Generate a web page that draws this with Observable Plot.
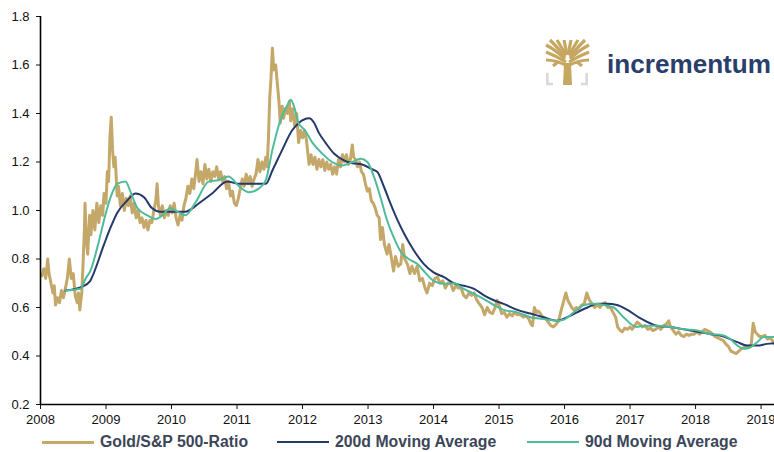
<!DOCTYPE html>
<html>
<head>
<meta charset="utf-8">
<script src="https://cdn.jsdelivr.net/npm/d3@7"></script>
<script src="https://cdn.jsdelivr.net/npm/@observablehq/plot@0.6"></script>
<style>
  html, body { margin: 0; padding: 0; background: #fff; }
  #wrap { position: relative; width: 774px; height: 452px; overflow: hidden; font-family: "Liberation Sans", Arial, sans-serif; }
  #legend { position: absolute; left: 0; top: 430px; width: 774px; height: 22px; }
  .item { position: absolute; top: 3px; display: flex; align-items: center; font-weight: bold; font-size: 15.8px; color: #3b4658; white-space: nowrap; }
  .sw { display: inline-block; width: 52px; margin-right: 6px; }
  #logo { position: absolute; left: 540px; top: 34px; }
</style>
</head>
<body>
<div id="wrap">
  <div id="chart"></div>
  <div id="legend"></div>
  <svg id="logo" width="234" height="56" viewBox="540 34 234 56">
    <g fill="#c6a762">
      <path d="M563 85 L572 85 L571 63 L564 63 Z"/>
    </g>
    <g stroke="#c6a762" stroke-width="3.2" fill="none" stroke-linecap="butt">
      <path d="M567.5 66 C560 62 552 60 546 60"/>
      <path d="M567.5 66 C575 62 583 60 589 60"/>
      <path d="M566 62 C558 57 551 54 546 52"/>
      <path d="M569 62 C577 57 584 54 589 52"/>
      <path d="M565 59 C558 52 552 48 546 45"/>
      <path d="M570 59 C577 52 583 48 589 45"/>
      <path d="M565 57 C560 50 555 45 550 40"/>
      <path d="M570 57 C575 50 580 45 585 40"/>
      <path d="M566 55 C563 50 560 45 557 40"/>
      <path d="M569 55 C572 50 575 45 578 40"/>
      <path d="M567 55 C566 50 565 45 564 40"/>
      <path d="M568 55 C569 50 570 45 571 40"/>
      <path d="M558 62 L553 66"/>
      <path d="M577 62 L582 66"/>
    </g>
    <g stroke="#d8d8d8" stroke-width="2.5" fill="none">
      <path d="M547.3 73 L547.3 84 L553 84"/>
      <path d="M586.7 73 L586.7 84 L581 84"/>
    </g>
    <text x="607" y="72.5" font-family="Liberation Sans, Arial, sans-serif" font-weight="bold" font-size="26.5" fill="#2a3e6b" textLength="164" lengthAdjust="spacingAndGlyphs">incrementum</text>
  </svg>
</div>
<script>
// ---- Data (decimal years) ----
const goldYear = [2008.02,2008.05,2008.08,2008.11,2008.13,2008.16,2008.19,2008.21,2008.23,2008.26,2008.29,2008.32,2008.35,2008.38,2008.41,2008.44,2008.47,2008.50,2008.53,2008.56,2008.58,2008.60,2008.63,2008.65,2008.67,2008.68,2008.70,2008.72,2008.75,2008.77,2008.80,2008.83,2008.86,2008.89,2008.92,2008.95,2008.97,2009.00,2009.02,2009.04,2009.06,2009.08,2009.10,2009.12,2009.14,2009.17,2009.19,2009.22,2009.25,2009.28,2009.31,2009.34,2009.37,2009.40,2009.43,2009.46,2009.49,2009.52,2009.55,2009.58,2009.61,2009.64,2009.67,2009.70,2009.73,2009.76,2009.78,2009.80,2009.83,2009.86,2009.89,2009.92,2009.95,2009.98,2010.01,2010.04,2010.07,2010.10,2010.13,2010.16,2010.19,2010.22,2010.25,2010.28,2010.31,2010.34,2010.37,2010.39,2010.42,2010.45,2010.48,2010.51,2010.54,2010.57,2010.60,2010.63,2010.66,2010.69,2010.72,2010.75,2010.78,2010.81,2010.84,2010.87,2010.90,2010.93,2010.96,2010.99,2011.02,2011.05,2011.08,2011.11,2011.14,2011.17,2011.20,2011.23,2011.26,2011.29,2011.32,2011.35,2011.38,2011.41,2011.44,2011.46,2011.48,2011.50,2011.52,2011.54,2011.56,2011.59,2011.62,2011.64,2011.66,2011.69,2011.71,2011.74,2011.77,2011.80,2011.82,2011.85,2011.88,2011.91,2011.94,2011.97,2012.00,2012.03,2012.06,2012.08,2012.10,2012.13,2012.16,2012.19,2012.22,2012.25,2012.28,2012.31,2012.34,2012.37,2012.40,2012.43,2012.46,2012.49,2012.52,2012.55,2012.58,2012.61,2012.64,2012.67,2012.70,2012.73,2012.76,2012.78,2012.81,2012.84,2012.87,2012.90,2012.93,2012.96,2012.99,2013.02,2013.05,2013.08,2013.11,2013.14,2013.17,2013.19,2013.22,2013.25,2013.29,2013.32,2013.36,2013.39,2013.42,2013.46,2013.50,2013.53,2013.56,2013.60,2013.64,2013.67,2013.71,2013.75,2013.79,2013.83,2013.87,2013.90,2013.94,2013.98,2014.02,2014.06,2014.10,2014.14,2014.18,2014.22,2014.26,2014.30,2014.34,2014.38,2014.42,2014.46,2014.50,2014.54,2014.58,2014.62,2014.66,2014.70,2014.74,2014.78,2014.82,2014.86,2014.90,2014.94,2014.97,2015.00,2015.04,2015.08,2015.12,2015.16,2015.20,2015.24,2015.28,2015.33,2015.37,2015.41,2015.45,2015.49,2015.51,2015.54,2015.57,2015.60,2015.63,2015.67,2015.71,2015.75,2015.79,2015.83,2015.87,2015.91,2015.95,2015.98,2016.02,2016.05,2016.08,2016.11,2016.14,2016.18,2016.22,2016.26,2016.30,2016.34,2016.38,2016.42,2016.46,2016.50,2016.54,2016.58,2016.62,2016.66,2016.70,2016.74,2016.78,2016.81,2016.85,2016.88,2016.92,2016.96,2017.00,2017.03,2017.07,2017.11,2017.15,2017.19,2017.23,2017.27,2017.31,2017.35,2017.39,2017.43,2017.47,2017.51,2017.55,2017.59,2017.62,2017.66,2017.70,2017.74,2017.78,2017.82,2017.86,2017.90,2017.94,2017.98,2018.02,2018.06,2018.10,2018.14,2018.18,2018.22,2018.26,2018.30,2018.34,2018.38,2018.42,2018.46,2018.50,2018.54,2018.58,2018.62,2018.66,2018.70,2018.74,2018.78,2018.82,2018.85,2018.88,2018.91,2018.94,2018.98,2019.02,2019.06,2019.10,2019.14,2019.18,2019.20];
const goldRatio = [0.73,0.76,0.72,0.80,0.74,0.70,0.66,0.69,0.61,0.64,0.62,0.67,0.64,0.68,0.72,0.80,0.72,0.74,0.65,0.62,0.66,0.59,0.66,0.78,0.92,1.03,0.88,0.82,0.98,0.90,1.00,0.92,1.03,0.95,1.02,0.98,1.07,1.03,1.16,1.12,1.30,1.385,1.25,1.18,1.22,1.06,1.10,1.02,1.07,1.00,1.05,1.02,1.06,0.99,1.03,0.97,1.00,0.95,0.97,0.93,0.96,0.92,0.96,0.95,1.00,1.04,1.11,1.02,0.98,1.02,0.97,1.00,0.98,1.02,0.99,1.03,0.97,0.94,0.98,0.96,1.02,1.05,1.10,1.07,1.13,1.09,1.16,1.21,1.12,1.16,1.11,1.19,1.13,1.17,1.12,1.16,1.14,1.18,1.13,1.16,1.12,1.14,1.09,1.12,1.06,1.08,1.03,1.02,1.05,1.09,1.13,1.10,1.15,1.11,1.14,1.10,1.13,1.15,1.21,1.16,1.20,1.17,1.22,1.18,1.30,1.47,1.55,1.67,1.58,1.60,1.51,1.45,1.36,1.43,1.38,1.42,1.40,1.45,1.37,1.42,1.35,1.40,1.28,1.33,1.30,1.33,1.29,1.24,1.19,1.23,1.19,1.22,1.17,1.21,1.18,1.21,1.165,1.20,1.17,1.19,1.15,1.18,1.15,1.21,1.18,1.23,1.20,1.23,1.19,1.21,1.27,1.22,1.21,1.18,1.20,1.16,1.15,1.11,1.08,1.09,1.04,1.03,1.01,0.98,0.97,0.88,0.93,0.86,0.82,0.86,0.80,0.75,0.81,0.77,0.78,0.86,0.80,0.78,0.74,0.77,0.74,0.77,0.71,0.72,0.68,0.66,0.70,0.69,0.72,0.725,0.70,0.71,0.68,0.70,0.70,0.67,0.69,0.68,0.68,0.65,0.64,0.66,0.65,0.66,0.63,0.615,0.60,0.57,0.60,0.58,0.575,0.60,0.63,0.61,0.575,0.58,0.56,0.575,0.565,0.58,0.57,0.57,0.56,0.565,0.555,0.53,0.525,0.60,0.58,0.585,0.575,0.56,0.555,0.54,0.525,0.52,0.53,0.545,0.59,0.62,0.66,0.63,0.615,0.60,0.59,0.60,0.595,0.61,0.615,0.66,0.63,0.615,0.60,0.61,0.60,0.615,0.62,0.60,0.60,0.58,0.56,0.52,0.505,0.50,0.515,0.51,0.52,0.51,0.525,0.54,0.53,0.52,0.525,0.51,0.515,0.505,0.51,0.52,0.51,0.525,0.53,0.545,0.52,0.505,0.49,0.50,0.485,0.48,0.49,0.485,0.49,0.49,0.50,0.49,0.50,0.51,0.505,0.50,0.49,0.48,0.475,0.47,0.465,0.45,0.44,0.42,0.415,0.41,0.42,0.43,0.435,0.44,0.44,0.45,0.535,0.50,0.49,0.48,0.48,0.485,0.47,0.475,0.46,0.45];

const ma200Year = [2008.38,2008.63,2008.76,2008.81,2008.97,2009.07,2009.17,2009.32,2009.45,2009.58,2009.70,2009.83,2009.98,2010.21,2010.42,2010.62,2010.85,2011.03,2011.23,2011.44,2011.54,2011.69,2011.84,2011.94,2012.10,2012.18,2012.25,2012.35,2012.48,2012.61,2012.76,2012.91,2013.06,2013.14,2013.24,2013.34,2013.45,2013.55,2013.70,2013.85,2014.00,2014.16,2014.31,2014.46,2014.62,2014.77,2014.92,2015.07,2015.28,2015.48,2015.68,2015.89,2016.04,2016.19,2016.35,2016.50,2016.65,2016.80,2016.96,2017.16,2017.41,2017.62,2017.82,2018.03,2018.23,2018.43,2018.64,2018.79,2018.94,2019.09,2019.20];
const ma200 = [0.67,0.685,0.71,0.74,0.86,0.93,0.99,1.04,1.07,1.055,1.01,0.995,0.995,0.995,1.03,1.07,1.12,1.11,1.11,1.11,1.165,1.25,1.33,1.36,1.38,1.36,1.32,1.28,1.235,1.21,1.195,1.19,1.17,1.16,1.10,1.03,0.96,0.905,0.835,0.78,0.745,0.725,0.70,0.69,0.677,0.65,0.63,0.615,0.59,0.575,0.56,0.545,0.56,0.58,0.60,0.615,0.615,0.61,0.59,0.555,0.525,0.52,0.51,0.50,0.49,0.48,0.457,0.443,0.443,0.45,0.453];

const ma90Year = [2008.38,2008.61,2008.69,2008.76,2008.87,2008.97,2009.07,2009.17,2009.30,2009.37,2009.48,2009.63,2009.76,2009.88,2009.98,2010.06,2010.21,2010.37,2010.57,2010.72,2010.87,2011.03,2011.18,2011.33,2011.44,2011.54,2011.66,2011.76,2011.82,2011.87,2011.94,2012.04,2012.15,2012.30,2012.45,2012.61,2012.76,2012.89,2012.99,2013.09,2013.19,2013.29,2013.39,2013.50,2013.62,2013.75,2013.87,2014.00,2014.16,2014.31,2014.46,2014.62,2014.77,2014.92,2015.07,2015.28,2015.48,2015.68,2015.89,2015.99,2016.14,2016.30,2016.45,2016.60,2016.75,2016.90,2017.10,2017.21,2017.41,2017.62,2017.82,2018.03,2018.23,2018.38,2018.53,2018.64,2018.74,2018.84,2018.94,2019.04,2019.20];
const ma90 = [0.67,0.677,0.72,0.75,0.85,0.96,1.055,1.11,1.12,1.08,1.01,0.98,0.965,0.985,1.01,1.0,0.98,1.035,1.12,1.125,1.14,1.10,1.075,1.09,1.125,1.25,1.37,1.43,1.457,1.43,1.36,1.33,1.28,1.235,1.20,1.186,1.20,1.213,1.20,1.14,1.055,0.96,0.89,0.83,0.80,0.78,0.745,0.71,0.698,0.70,0.677,0.656,0.635,0.61,0.59,0.58,0.56,0.553,0.545,0.55,0.58,0.61,0.615,0.61,0.60,0.56,0.52,0.525,0.525,0.52,0.51,0.505,0.49,0.488,0.47,0.443,0.43,0.436,0.457,0.478,0.478];

const xTicks = [2008,2009,2010,2011,2012,2013,2014,2015,2016,2017,2018,2019];
const yTicks = [0.2,0.4,0.6,0.8,1.0,1.2,1.4,1.6,1.8];
const seriesNames = ["Gold/S&P 500-Ratio","200d Moving Average","90d Moving Average"];
const seriesColors = ["#c4a86a","#25396b","#4fbb9b"];

const gold = goldYear.map((t,i) => ({t, v: goldRatio[i]}));
const m200 = ma200Year.map((t,i) => ({t, v: ma200[i]}));
const m90 = ma90Year.map((t,i) => ({t, v: ma90[i]}));

const chart = Plot.plot({
  width: 774,
  height: 430,
  marginTop: 16,
  marginBottom: 26,
  marginLeft: 40,
  marginRight: 0,
  style: {fontFamily: "'Liberation Sans', Arial, sans-serif", fontSize: "13px", color: "#111", background: "#fff", overflow: "visible"},
  x: {domain: [2008, 2019.205], ticks: xTicks, tickFormat: d => String(d), tickSize: 5, tickPadding: 5, label: null},
  y: {domain: [0.2, 1.8], ticks: yTicks, tickFormat: d3.format(".1f"), tickSize: 4, tickPadding: 7, label: null},
  marks: [
    Plot.line(gold, {x: "t", y: "v", stroke: seriesColors[0], strokeWidth: 3, strokeLinejoin: "round"}),
    Plot.line(m200, {x: "t", y: "v", stroke: seriesColors[1], strokeWidth: 2, curve: "monotone-x"}),
    Plot.line(m90, {x: "t", y: "v", stroke: seriesColors[2], strokeWidth: 2, curve: "monotone-x"}),
    Plot.ruleX([2008], {stroke: "#000", strokeWidth: 1.6}),
    Plot.ruleY([0.2], {stroke: "#000", strokeWidth: 1.6})
  ]
});
document.getElementById("chart").appendChild(chart);

const legendLeft = [42, 277, 527];
const legend = document.getElementById("legend");
seriesNames.forEach((name, i) => {
  const item = document.createElement("div");
  item.className = "item";
  item.style.left = legendLeft[i] + "px";
  const sw = document.createElement("span");
  sw.className = "sw";
  sw.style.borderTop = (i === 0 ? 3 : 2) + "px solid " + seriesColors[i];
  item.appendChild(sw);
  const lab = document.createElement("span");
  lab.textContent = name;
  item.appendChild(lab);
  legend.appendChild(item);
});
</script>
</body>
</html>
